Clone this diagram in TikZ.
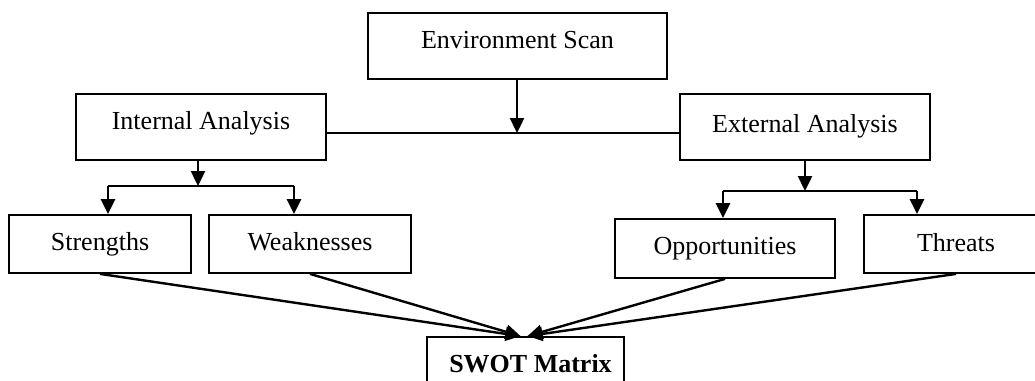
\documentclass[tikz,border=0pt]{standalone}
\usepackage{fontspec}
\setmainfont{Liberation Serif}
\usetikzlibrary{arrows.meta,calc}
\begin{document}
\begin{tikzpicture}[x=1pt,y=-1pt,
  box/.style={draw,line width=1.8pt,rectangle,inner sep=0pt,font=\fontsize{26}{30}\selectfont,text height=18pt,text depth=6pt},
  conn/.style={line width=2.4pt},
  arr/.style={conn,-{Triangle[length=15pt,width=14pt]}}]
\clip (0,0) rectangle (1035,380);
\node[box,minimum width=299pt,minimum height=66pt,text depth=14pt] (env) at (517.5,46) {Environment Scan};
\node[box,minimum width=250pt,minimum height=66pt,text depth=14pt] (int) at (201,127) {Internal Analysis};
\node[box,minimum width=250pt,minimum height=66pt,text depth=8pt] (ext) at (805,127) {External Analysis};
\node[box,minimum width=182pt,minimum height=58pt] (str) at (100,244) {Strengths};
\node[box,minimum width=202pt,minimum height=58pt] (weak) at (310,244) {Weaknesses};
\node[box,minimum width=220pt,minimum height=59pt] (opp) at (725,248.5) {Opportunities};
\node[box,minimum width=184pt,minimum height=58pt,text depth=4pt] (thr) at (956,244) {Threats};
\node[box,minimum width=197pt,minimum height=66pt,text depth=14pt,font=\fontsize{26}{30}\selectfont\bfseries] (swot) at (525.5,370) {\hspace{10pt}SWOT Matrix};
% top connectors
\coordinate (j1) at (517,133);
\draw[conn] (j1 -| int.east) -- (j1 -| ext.west);
\draw[arr] (j1 |- env.south) -- (j1);
% internal branch
\coordinate (j2) at (198,186);
\coordinate (a1) at (108,186);
\coordinate (a2) at (294,186);
\draw[arr] (j2 |- int.south) -- (j2);
\draw[conn] (a1) -- (a2);
\draw[arr] (a1) -- (a1 |- str.north);
\draw[arr] (a2) -- (a2 |- weak.north);
% external branch
\coordinate (j3) at (805,191);
\coordinate (b1) at (723,191);
\coordinate (b2) at (917,191);
\draw[arr] (j3 |- ext.south) -- (j3);
\draw[conn] (b1) -- (b2);
\draw[arr] (b1) -- (b1 |- opp.north);
\draw[arr] (b2) -- (b2 |- thr.north);
% to SWOT
\coordinate (s1) at ($(swot.north)+(-5,0)$);
\coordinate (s2) at ($(swot.north)+(2,0)$);
\draw[arr] (str.south) -- (s1);
\draw[arr] (weak.south) -- (s1);
\draw[arr] (opp.south) -- (s2);
\draw[arr] (thr.south) -- (s2);
\end{tikzpicture}
\end{document}
